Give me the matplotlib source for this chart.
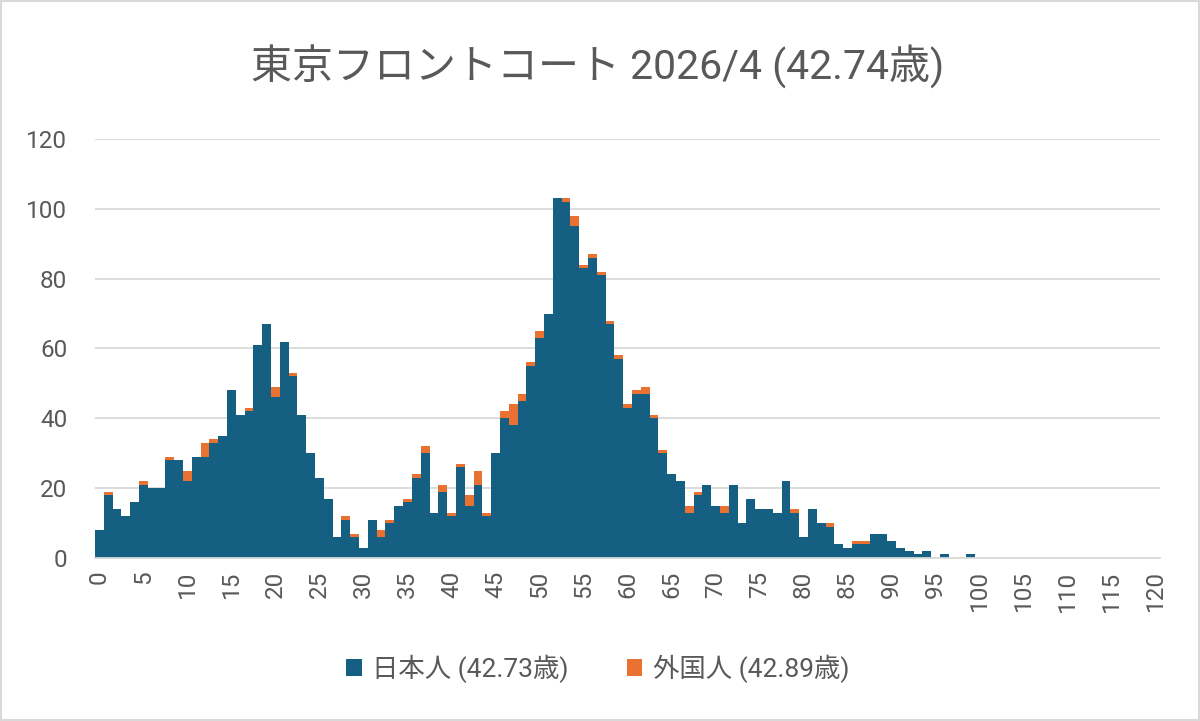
import numpy as np
import matplotlib
matplotlib.use("Agg")
import matplotlib.pyplot as plt
from matplotlib.patches import Rectangle

plt.rcParams['font.family'] = ['Roboto', 'Noto Sans CJK JP', 'DejaVu Sans']

# 年齢別人数（0〜120歳）
ages = list(range(121))
japanese = [
    8, 18, 14, 12, 16, 21, 20, 20, 28, 28,
    22, 29, 29, 33, 35, 48, 41, 42, 61, 67,
    46, 62, 52, 41, 30, 23, 17, 6, 11, 6,
    3, 11, 6, 10, 15, 16, 23, 30, 13, 19,
    12, 26, 15, 21, 12, 30, 40, 38, 45, 55,
    63, 70, 103, 102, 95, 83, 86, 81, 67, 57,
    43, 47, 47, 40, 30, 24, 22, 13, 18, 21,
    15, 13, 21, 10, 17, 14, 14, 13, 22, 13,
    6, 14, 10, 9, 4, 3, 4, 4, 7, 7,
    5, 3, 2, 1, 2, 0, 1, 0, 0, 1,
] + [0] * 21
foreign = [
    0, 1, 0, 0, 0, 1, 0, 0, 1, 0,
    3, 0, 4, 1, 0, 0, 0, 1, 0, 0,
    3, 0, 1, 0, 0, 0, 0, 0, 1, 1,
    0, 0, 2, 1, 0, 1, 1, 2, 0, 2,
    1, 1, 3, 4, 1, 0, 2, 6, 2, 1,
    2, 0, 0, 1, 3, 1, 1, 1, 1, 1,
    1, 1, 2, 1, 1, 0, 0, 2, 1, 0,
    0, 2, 0, 0, 0, 0, 0, 0, 0, 1,
    0, 0, 0, 1, 0, 0, 1, 1, 0, 0,
] + [0] * 31

title = '東京フロントコート 2026/4 (42.74歳)'
label_jp = '日本人 (42.73歳)'
label_fg = '外国人 (42.89歳)'

BLUE = '#156082'
ORANGE = '#E97132'
TEXT = '#595959'
GRID = '#d9d9d9'

fig = plt.figure(figsize=(12, 7.21), dpi=100)
ax = fig.add_axes([0.0792, 0.2261, 0.8875, 0.5811])

x = np.arange(len(ages))
ax.bar(x, japanese, width=1.0, color=BLUE, label=label_jp, linewidth=0, zorder=3)
ax.bar(x, foreign, width=1.0, bottom=japanese, color=ORANGE, label=label_fg,
       linewidth=0, zorder=3)

ax.set_xlim(-0.5, 120.5)
ax.set_ylim(0, 120)
ax.set_yticks(range(0, 121, 20))
ax.set_xticks(range(0, 121, 5))
ax.set_xticklabels([str(a) for a in range(0, 121, 5)], rotation=90)
ax.tick_params(axis='y', length=0, pad=20, labelsize=17.5, labelcolor=TEXT)
ax.tick_params(axis='x', length=0, pad=9, labelsize=17.5, labelcolor=TEXT)
ax.yaxis.grid(True, color=GRID, linewidth=1.3, zorder=0)
for side in ['top', 'right', 'left']:
    ax.spines[side].set_visible(False)
ax.spines['bottom'].set_color(GRID)
ax.spines['bottom'].set_linewidth(1.3)
ax.spines['bottom'].set_zorder(4)

fig.text(0.498, 0.907, title, ha='center', va='center', fontsize=29.5, color=TEXT)

leg = fig.legend(loc='center', bbox_to_anchor=(0.498, 0.073), ncol=2, frameon=False,
                 fontsize=19, handlelength=0.6, handleheight=0.6, handletextpad=0.4,
                 columnspacing=2.2)
for t in leg.get_texts():
    t.set_color(TEXT)

fig.patches.append(Rectangle((0.001, 0.001), 0.998, 0.997, transform=fig.transFigure,
                             fill=False, edgecolor=GRID, linewidth=1.5))

fig.savefig('out.png', dpi=100)
